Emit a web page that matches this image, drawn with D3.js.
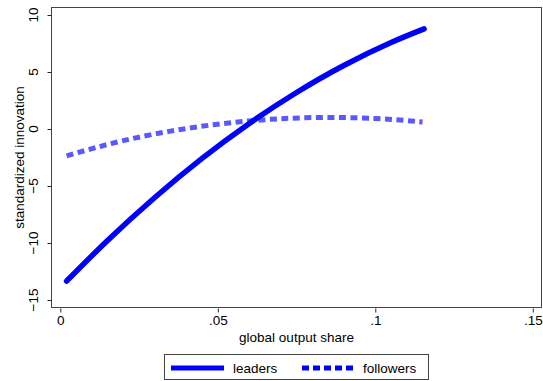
<!DOCTYPE html>
<html>
<head>
<meta charset="utf-8">
<script src="https://cdn.jsdelivr.net/npm/d3@7"></script>
<style>
  html, body { margin: 0; padding: 0; background: #fff; }
  svg { display: block; font-family: "Liberation Sans", Arial, sans-serif; }
</style>
</head>
<body>
<svg id="chart" width="543" height="381"></svg>
<script>
// Fitted innovation profiles by global output share
const leadersShare = [0.002, 0.015, 0.03, 0.045, 0.06, 0.075, 0.09, 0.105, 0.1155];
const leadersInnov = [-13.34, -9.78, -6.01, -2.58, 0.49, 3.2, 5.57, 7.58, 8.78];

const followersShare = [0.002, 0.02, 0.04, 0.06, 0.08, 0.1, 0.115];
const followersInnov = [-2.35, -1.02, 0.04, 0.71, 1.0, 0.92, 0.62];

const xTicks = [0, 0.05, 0.1, 0.15];
const xTickLabels = ["0", ".05", ".1", ".15"];
const yTicks = [-15, -10, -5, 0, 5, 10];

const seriesNames = ["leaders", "followers"];

const FS = 13.5;
const svg = d3.select("#chart");
const frame = { left: 51, right: 542, top: 7, bottom: 308 };

const x = d3.scaleLinear().domain([0, 0.15]).range([60.3, 532.8]);
const y = d3.scaleLinear().domain([-15, 10]).range([300, 15]);

// plot frame
svg.append("rect")
  .attr("x", frame.left + 0.5).attr("y", frame.top + 0.5)
  .attr("width", frame.right - frame.left - 1)
  .attr("height", frame.bottom - frame.top - 1)
  .attr("fill", "none").attr("stroke", "#444").attr("stroke-width", 1);

// y axis with vertical tick labels
const yAxis = d3.axisLeft(y).tickValues(yTicks).tickSize(4).tickFormat(d3.format("d"));
const gy = svg.append("g").attr("transform", `translate(${frame.left + 0.5},0)`).call(yAxis);
gy.select(".domain").remove();
gy.selectAll(".tick").attr("transform", null);
gy.selectAll(".tick line").attr("stroke", "#222")
  .attr("y1", d => y(d) + 0.5).attr("y2", d => y(d) + 0.5);
gy.selectAll(".tick text")
  .attr("font-size", FS).attr("fill", "#000")
  .attr("transform", "rotate(-90)")
  .attr("dy", 0)
  .attr("text-anchor", "middle")
  .attr("x", d => -y(d))
  .attr("y", -frame.left + 37);

// x axis
const xAxis = d3.axisBottom(x).tickValues(xTicks).tickSize(4).tickPadding(3)
  .tickFormat((d, i) => xTickLabels[i]);
const gx = svg.append("g").attr("transform", `translate(0,${frame.bottom + 0.5})`).call(xAxis);
gx.select(".domain").remove();
gx.selectAll(".tick line").attr("stroke", "#222");
gx.selectAll(".tick text").attr("font-size", FS).attr("fill", "#000");

// axis titles
svg.append("text")
  .attr("x", (frame.left + frame.right) / 2).attr("y", 342)
  .attr("text-anchor", "middle").attr("font-size", FS).attr("fill", "#000")
  .text("global output share");
svg.append("text")
  .attr("transform", `translate(24,${(frame.top + frame.bottom) / 2}) rotate(-90)`)
  .attr("text-anchor", "middle").attr("font-size", FS).attr("fill", "#000")
  .text("standardized innovation");

const line = d3.line().curve(d3.curveNatural)
  .x(d => x(d[0])).y(d => y(d[1]));

const leaders = d3.zip(leadersShare, leadersInnov);
const followers = d3.zip(followersShare, followersInnov);

svg.append("path").datum(followers)
  .attr("d", line)
  .attr("fill", "none").attr("stroke", "#0000ff").attr("stroke-opacity", 0.65)
  .attr("stroke-width", 5).attr("stroke-dasharray", "7,4.5");

svg.append("path").datum(leaders)
  .attr("d", line)
  .attr("fill", "none").attr("stroke", "#0000ff")
  .attr("stroke-width", 5.5).attr("stroke-linecap", "round");

// legend
const lg = svg.append("g");
lg.append("rect").attr("x", 164.5).attr("y", 354.5).attr("width", 264).attr("height", 25)
  .attr("fill", "#fff").attr("stroke", "#444");
lg.append("line").attr("x1", 171).attr("x2", 224).attr("y1", 368).attr("y2", 368)
  .attr("stroke", "#0000ff").attr("stroke-width", 5);
lg.append("text").attr("x", 233).attr("y", 373).attr("font-size", FS).text(seriesNames[0]);
lg.append("line").attr("x1", 302).attr("x2", 354).attr("y1", 368).attr("y2", 368)
  .attr("stroke", "#0000ff").attr("stroke-width", 5).attr("stroke-dasharray", "7,4");
lg.append("text").attr("x", 363).attr("y", 373).attr("font-size", FS).text(seriesNames[1]);
</script>
</body>
</html>
